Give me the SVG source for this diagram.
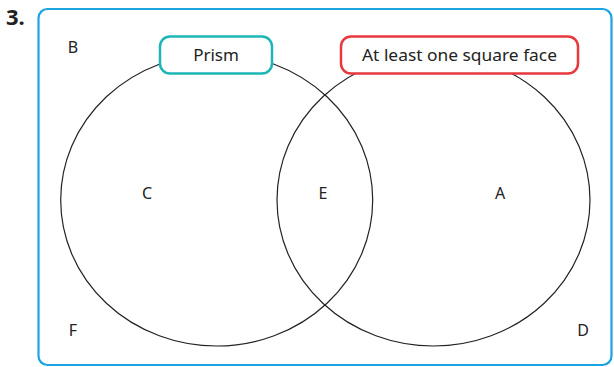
<svg xmlns="http://www.w3.org/2000/svg" width="614" height="367" viewBox="0 0 614 367">
<style>
.t{font-family:"Noto Sans","Open Sans",sans-serif;font-size:16px;fill:#222;text-anchor:middle}
.b{font-size:17px}
.set{fill:none;stroke:#222;stroke-width:1.2}
.lbl{fill:#fff;stroke-width:2.5}
</style>
<rect width="614" height="367" fill="#fff"/>
<text x="6" y="25" font-family="'Noto Sans','Open Sans',sans-serif" font-size="22" font-weight="bold" fill="#222">3.</text>
<rect id="frame" x="38.5" y="9" width="573" height="356" rx="9" fill="none" stroke="#1ba3e2" stroke-width="2.2"/>
<g id="set-prism"><ellipse class="set" cx="216.7" cy="200" rx="156" ry="146"/></g>
<g id="set-square"><ellipse class="set" cx="433.5" cy="200" rx="156.5" ry="146"/></g>
<g id="label-prism"><rect class="lbl" x="160" y="36.5" width="112" height="37" rx="10" stroke="#1cb5b8"/><text class="t b" x="216" y="61">Prism</text></g>
<g id="label-square"><rect class="lbl" x="341" y="36.5" width="237" height="37" rx="10" stroke="#e8393f"/><text class="t b" x="459.5" y="61" textLength="195" lengthAdjust="spacingAndGlyphs">At least one square face</text></g>
<g id="regions">
<text class="t" x="73" y="53">B</text>
<text class="t" x="147" y="199">C</text>
<text class="t" x="323" y="199">E</text>
<text class="t" x="500" y="199">A</text>
<text class="t" x="73" y="336">F</text>
<text class="t" x="583" y="336">D</text>
</g>
</svg>
